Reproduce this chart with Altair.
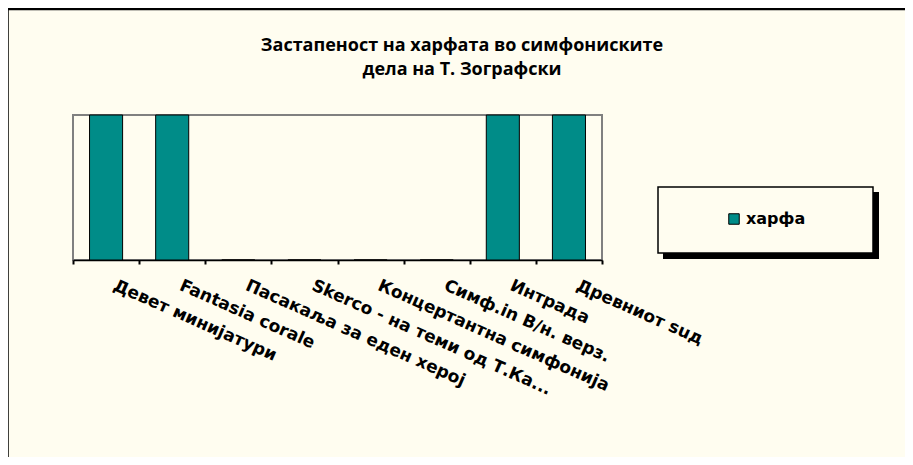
import altair as alt
import pandas as pd

categories = [
    "Девет минијатури",
    "Fantasia corale",
    "Пасакаља за еден херој",
    "Skerco - на теми од Т.Ка...",
    "Концертантна симфонија",
    "Симф.in B/н. верз.",
    "Интрада",
    "Древниот suд",
]
values = [1, 1, 0, 0, 0, 0, 1, 1]
series_name = "харфа"
title_lines = ["Застапеност на харфата во симфониските", "дела на Т. Зографски"]
title_y = [-64, -40]

BG = "#FFFDF0"
TEAL = "#008C88"

df = pd.DataFrame({"cat": categories, "val": values, "series": [series_name] * len(categories)})
one = pd.DataFrame({"k": [0]})
tdf = pd.DataFrame({"t": title_lines, "y": title_y})

bars = alt.Chart(df).mark_bar(stroke="black", strokeWidth=1, width=alt.RelativeBandSize(0.5)).encode(
    x=alt.X(
        "cat:N",
        sort=categories,
        scale=alt.Scale(paddingInner=0, paddingOuter=0),
        axis=alt.Axis(
            title=None,
            domainColor="black",
            domainWidth=1.5,
            tickColor="black",
            tickWidth=2,
            tickSize=4,
            tickBand="extent",
            labelAngle=24,
            labelAlign="left",
            labelBaseline="top",
            labelPadding=13,
            labelOffset=11,
            labelFont="DejaVu Sans",
            labelFontWeight="bold",
            labelFontSize=17,
            labelColor="black",
            labelLimit=1000,
            labelOverlap=False,
        ),
    ),
    y=alt.Y("val:Q", scale=alt.Scale(domain=[0, 1]), axis=None),
    color=alt.Color(
        "series:N",
        scale=alt.Scale(domain=[series_name], range=[TEAL]),
        legend=alt.Legend(
            title=None,
            orient="none",
            legendX=653,
            legendY=96,
            symbolType="square",
            symbolSize=110,
            symbolStrokeColor="black",
            symbolStrokeWidth=1,
            symbolFillColor=TEAL,
            labelFont="DejaVu Sans",
            labelFontWeight="bold",
            labelFontSize=16,
            labelColor="black",
            labelOffset=4,
            padding=0,
        ),
    ),
)

title = alt.Chart(tdf).mark_text(
    font="Open Sans", fontWeight="bold", fontSize=18, color="black",
    align="center", baseline="alphabetic", clip=False
).encode(x=alt.value(389), y=alt.Y("y:Q", scale=None), text="t:N")

border_top = alt.Chart(one).mark_rule(color="black", strokeWidth=2.5, clip=False).encode(
    x=alt.value(-65), x2=alt.value(1000), y=alt.value(-106)
)
border_left = alt.Chart(one).mark_rule(color="black", strokeWidth=2.5, clip=False).encode(
    x=alt.value(-65.5), y=alt.value(-106), y2=alt.value(500)
)
shadow = alt.Chart(one).mark_rect(fill="black", clip=False).encode(
    x=alt.value(590), x2=alt.value(806), y=alt.value(77), y2=alt.value(144)
)
legend_box = alt.Chart(one).mark_rect(fill=BG, stroke="black", strokeWidth=1.5, clip=False).encode(
    x=alt.value(585), x2=alt.value(800), y=alt.value(72), y2=alt.value(138)
)

chart = alt.layer(border_top, border_left, shadow, legend_box, title, bars).properties(
    width=529,
    height=145,
    autosize=alt.AutoSizeParams(type="none"),
    padding={"left": 65, "top": 107, "right": 303, "bottom": 197},
    background=BG,
).configure_view(stroke="#808080", strokeWidth=2, fill=BG)

chart.save("out.html", embed_options={"renderer": "svg", "actions": False})
